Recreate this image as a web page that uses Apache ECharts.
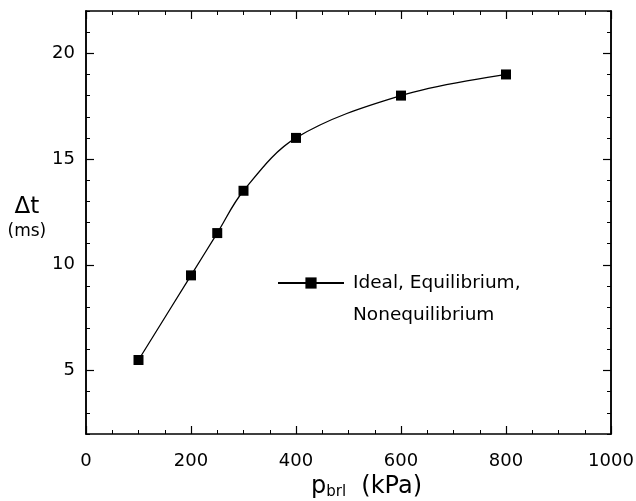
<!DOCTYPE html>
<html>
<head>
<meta charset="utf-8">
<script src="https://cdn.jsdelivr.net/npm/echarts@6/dist/echarts.min.js"></script>
<style>
  html, body { margin: 0; padding: 0; background: #fff; }
  #chart { width: 636px; height: 501px; }
</style>
</head>
<body>
<div id="chart"></div>
<script>
// pressure (kPa) and delay (ms)
const pressure = [100, 200, 250, 300, 400, 600, 800]
const delay = [5.5, 9.5, 11.5, 13.5, 16, 18, 19]
const yTickLabels = [5, 10, 15, 20]
const seriesName = 'Ideal, Equilibrium,\nNonequilibrium'

const font = 'DejaVu Sans, Verdana, sans-serif'
const lineStyle = { color: '#000', width: 1.5 }

const xBase = {
	type: 'value',
	min: 0,
	max: 1000,
	interval: 200,
	splitLine: { show: false },
	axisLine: { show: true, lineStyle: lineStyle },
	axisTick: { inside: true, length: 8, lineStyle: { color: '#000', width: 1.2 } },
	minorTick: { show: true, splitNumber: 4, length: 4, lineStyle: { color: '#000', width: 1 } },
}

const yMinor = {
	type: 'value',
	min: 2,
	max: 22,
	interval: 1,
	splitLine: { show: false },
	axisLine: { show: true, lineStyle: lineStyle },
	axisTick: { inside: true, length: 4, lineStyle: { color: '#000', width: 1 } },
	axisLabel: { show: false },
}

const yMajor = {
	type: 'value',
	min: 2,
	max: 22,
	splitLine: { show: false },
	axisLine: { show: true, lineStyle: lineStyle },
	axisTick: { inside: true, length: 8, customValues: yTickLabels, lineStyle: { color: '#000', width: 1.2 } },
}

const myChart = echarts.init(document.getElementById('chart'))

const option = {
	animation: false,
	backgroundColor: '#fff',
	grid: { left: 86, right: 25, top: 11, bottom: 67, outerBoundsMode: 'none' },
	legend: {
		data: [seriesName],
		left: 272,
		top: 230,
		itemWidth: 66,
		itemHeight: 14,
		formatter: (name) => ' \n' + name,
		textStyle: {
			fontFamily: font,
			fontSize: 18.5,
			color: '#000',
			lineHeight: 32,
			padding: [0, 0, 0, 4],
		},
	},
	xAxis: [
		{
			...xBase,
			position: 'bottom',
			axisLabel: {
				fontFamily: font,
				fontSize: 18,
				color: '#000',
				margin: 18,
				formatter: (v) => String(v),
			},
			name: 'p{sub|brl}  (kPa)',
			nameLocation: 'middle',
			nameGap: 40,
			nameTextStyle: {
				fontFamily: font,
				fontSize: 24,
				color: '#000',
				padding: [0, 0, 0, 36],
				rich: {
					sub: { fontFamily: font, fontSize: 15, color: '#000', verticalAlign: 'bottom', padding: [10, 0, 0, 0] },
				},
			},
		},
		{
			...xBase,
			position: 'top',
			axisLabel: { show: false },
		},
	],
	yAxis: [
		{ ...yMinor, position: 'left' },
		{
			...yMajor,
			position: 'left',
			axisLabel: { customValues: yTickLabels, fontFamily: font, fontSize: 18, color: '#000', margin: 11 },
			name: '{a|Δt}\n{b|(ms)}',
			nameLocation: 'middle',
			nameRotate: 0,
			nameGap: 26,
			nameTextStyle: {
				padding: [0, 0, 8, 0],
				rich: {
					a: { fontFamily: font, fontSize: 23, color: '#000', align: 'center', lineHeight: 26 },
					b: { fontFamily: font, fontSize: 17, color: '#000', align: 'center', lineHeight: 22 },
				},
			},
		},
		{ ...yMinor, position: 'right' },
		{ ...yMajor, position: 'right', axisLabel: { show: false } },
	],
	series: [
		{
			name: seriesName,
			type: 'line',
			xAxisIndex: 0,
			yAxisIndex: 0,
			smooth: 0.35,
			symbol: 'rect',
			symbolSize: 10,
			lineStyle: { color: '#000', width: 1.3 },
			itemStyle: { color: '#000' },
			data: pressure.map((p, i) => [p, delay[i]]),
		},
	],
}

option && myChart.setOption(option)
</script>
</body>
</html>
